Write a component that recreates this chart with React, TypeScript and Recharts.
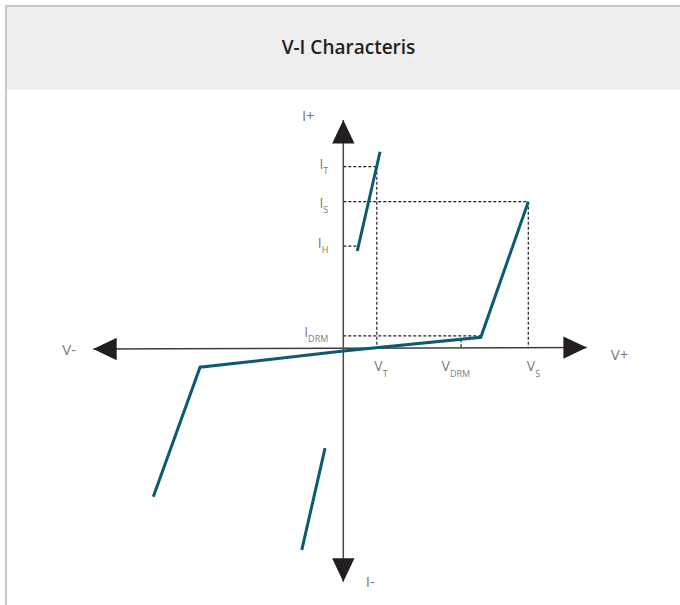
import React from 'react';
import { ScatterChart, Scatter, XAxis, YAxis, ReferenceLine } from 'recharts';

// V-I curve branches, in chart units (V across, I up)
const onStateBranch = [
  { x: 0.56, y: 4.17 },
  { x: 1.47, y: 8.42 },
];
const blockingBranch = [
  { x: -7.6, y: -6.36 },
  { x: -5.73, y: -0.81 },
  { x: 0, y: -0.12 },
  { x: 5.5, y: 0.47 },
  { x: 7.4, y: 6.28 },
];
const reverseOnBranch = [
  { x: -0.73, y: -4.28 },
  { x: -1.66, y: -8.64 },
];

// tick values on the current and voltage axes
const currentTicks = [
  { main: 'I', sub: 'T', value: 7.78 },
  { main: 'I', sub: 'S', value: 6.28 },
  { main: 'I', sub: 'H', value: 4.38 },
  { main: 'I', sub: 'DRM', value: 0.53 },
];
const voltageTicks = [
  { main: 'V', sub: 'T', value: 1.34 },
  { main: 'V', sub: 'DRM', value: 4.71 },
  { main: 'V', sub: 'S', value: 7.4 },
];

// axis ends
const axisEnds = [
  { x: -10, y: -0.03, dir: 'left', label: 'V-' },
  { x: 9.74, y: 0.03, dir: 'right', label: 'V+' },
  { x: 0, y: 9.78, dir: 'up', label: 'I+' },
  { x: 0, y: -10, dir: 'down', label: 'I-' },
];

const TEAL = '#0b5a70';
const DARK = '#231f20';
const GREY = '#7b7b7b';
const FONT = '"Open Sans", sans-serif';

const curveAt = (v: number) => {
  for (let i = 0; i < blockingBranch.length - 1; i++) {
    const a = blockingBranch[i];
    const b = blockingBranch[i + 1];
    if (v >= a.x && v <= b.x) return a.y + ((v - a.x) / (b.x - a.x)) * (b.y - a.y);
  }
  return 0;
};

const [iT, iS, iH, iDRM] = currentTicks.map((t) => t.value);
const [vT, vDRM, vS] = voltageTicks.map((t) => t.value);

const hGuides = [
  { y: iT, to: vT },
  { y: iS, to: vS },
  { y: iH, to: onStateBranch[0].x },
  { y: iDRM, to: blockingBranch[3].x },
];
const vGuides = [
  { x: vT, from: iT },
  { x: vS, from: iS },
  { x: vDRM, from: curveAt(vDRM) },
];

const currentLabelDy = [2.5, 6.5, 2, 1.5];
const voltageLabelDx = [-2.5, -19.5, -1.5];

const Empty = () => <g />;

const ArrowShape = (props: any) => {
  const { cx, cy, payload } = props;
  const L = 23.4;
  const H = 11.2;
  let pts = '';
  let lbl: any = null;
  if (payload.dir === 'left') {
    pts = `${cx},${cy} ${cx + L},${cy - H} ${cx + L},${cy + H}`;
    lbl = { x: cx - 31, y: cy + 5.5, anchor: 'start' };
  } else if (payload.dir === 'right') {
    pts = `${cx},${cy} ${cx - L},${cy - H} ${cx - L},${cy + H}`;
    lbl = { x: cx + 24, y: cy + 12.5, anchor: 'start' };
  } else if (payload.dir === 'up') {
    pts = `${cx},${cy} ${cx - H},${cy + L} ${cx + H},${cy + L}`;
    lbl = { x: cx - 35, y: cy + 0.5, anchor: 'middle' };
  } else {
    pts = `${cx},${cy} ${cx - H},${cy - L} ${cx + H},${cy - L}`;
    lbl = { x: cx + 22.5, y: cy + 5, anchor: 'start' };
  }
  return (
    <g>
      <polygon points={pts} fill={DARK} stroke="none" />
      <text x={lbl.x} y={lbl.y} textAnchor={lbl.anchor} fontSize={15} fontFamily={FONT} fill={GREY} stroke="none">
        {payload.label}
      </text>
    </g>
  );
};

const CurrentLabel = (props: any) => {
  const { cx, cy, payload, index } = props;
  return (
    <text x={cx - 15} y={cy + currentLabelDy[index]} textAnchor="end" fontFamily={FONT} fill={GREY} stroke="none">
      <tspan fontSize={14} fill={GREY}>{payload.main}</tspan>
      <tspan fontSize={9} dy={5} fill={GREY}>{payload.sub}</tspan>
    </text>
  );
};

const VoltageLabel = (props: any) => {
  const { cx, cy, payload, index } = props;
  return (
    <text x={cx + voltageLabelDx[index]} y={cy + 23} textAnchor="start" fontFamily={FONT} fill={GREY} stroke="none">
      <tspan fontSize={14} fill={GREY}>{payload.main}</tspan>
      <tspan fontSize={9} dy={6} fill={GREY}>{payload.sub}</tspan>
    </text>
  );
};

export default function App() {
  return (
    <div style={{ position: 'absolute', left: 0, top: 0, width: 680, height: 605, background: '#fff', overflow: 'hidden' }}>
      <div
        style={{
          position: 'absolute',
          left: 5,
          top: 5,
          right: 0,
          height: 83,
          background: '#eeeeee',
          borderTop: '2px solid #c8c8c8',
          borderLeft: '2px solid #c8c8c8',
        }}
      />
      <div style={{ position: 'absolute', left: 5, top: 5, width: 2, height: 600, background: '#c8c8c8' }} />
      <div
        style={{
          position: 'absolute',
          left: 0,
          top: 34,
          width: 697,
          textAlign: 'center',
          fontFamily: FONT,
          fontWeight: 600,
          fontSize: 19,
          color: DARK,
          lineHeight: '26px',
        }}
      >
        V-I Characteris
      </div>
      <div style={{ position: 'absolute', left: 0, top: 0 }}>
        <ScatterChart width={680} height={605} margin={{ top: 114.9, right: 86.7, bottom: 23.3, left: 93.3 }}>
          <XAxis type="number" dataKey="x" domain={[-10, 10]} hide />
          <YAxis type="number" dataKey="y" domain={[-10, 10]} hide />

          {hGuides.map((g, i) => (
            <ReferenceLine
              key={`h-${i}`}
              segment={[{ x: 0, y: g.y }, { x: g.to, y: g.y }]}
              stroke={DARK}
              strokeWidth={1.2}
              strokeDasharray="3 2"
              ifOverflow="visible"
            />
          ))}
          {vGuides.map((g, i) => (
            <ReferenceLine
              key={`v-${i}`}
              segment={[{ x: g.x, y: g.from }, { x: g.x, y: 0 }]}
              stroke={DARK}
              strokeWidth={1.2}
              strokeDasharray="3 2"
              ifOverflow="visible"
            />
          ))}

          <ReferenceLine
            segment={[{ x: axisEnds[0].x, y: axisEnds[0].y }, { x: axisEnds[1].x, y: axisEnds[1].y }]}
            stroke="#3d3d3d"
            strokeWidth={1.5}
            ifOverflow="visible"
          />
          <ReferenceLine
            segment={[{ x: 0, y: axisEnds[3].y }, { x: 0, y: axisEnds[2].y }]}
            stroke="#4a4a4a"
            strokeWidth={1.5}
            ifOverflow="visible"
          />

          <Scatter data={blockingBranch} line={{ stroke: TEAL, strokeWidth: 3 }} fill={TEAL} shape={Empty} isAnimationActive={false} />
          <Scatter data={onStateBranch} line={{ stroke: TEAL, strokeWidth: 3 }} fill={TEAL} shape={Empty} isAnimationActive={false} />
          <Scatter data={reverseOnBranch} line={{ stroke: TEAL, strokeWidth: 3 }} fill={TEAL} shape={Empty} isAnimationActive={false} />

          <Scatter data={axisEnds} fill={GREY} shape={ArrowShape} isAnimationActive={false} />
          <Scatter data={currentTicks.map((t) => ({ ...t, x: 0, y: t.value }))} fill={GREY} shape={CurrentLabel} isAnimationActive={false} />
          <Scatter data={voltageTicks.map((t) => ({ ...t, x: t.value, y: 0 }))} fill={GREY} shape={VoltageLabel} isAnimationActive={false} />
        </ScatterChart>
      </div>
    </div>
  );
}
